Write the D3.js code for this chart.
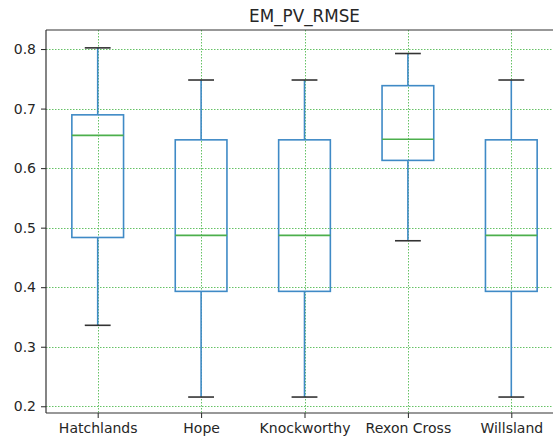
<!DOCTYPE html>
<html>
<head>
<meta charset="utf-8">
<script src="https://cdn.jsdelivr.net/npm/d3@7/dist/d3.min.js"></script>
<style>
  html, body { margin: 0; padding: 0; background: #fff; }
  svg { display: block; font-family: "DejaVu Sans", sans-serif; }
</style>
</head>
<body>
<svg id="chart" width="553" height="441"></svg>
<script>
// Box-plot summary for each site: whisker low, Q1, median, Q3, whisker high
const sites    = ["Hatchlands", "Hope", "Knockworthy", "Rexon Cross", "Willsland"];
const whiskLow = [0.336, 0.2155, 0.2155, 0.478, 0.2155];
const q1       = [0.4835, 0.393, 0.393, 0.613, 0.393];
const median   = [0.655, 0.487, 0.487, 0.6485, 0.487];
const q3       = [0.6895, 0.6475, 0.6475, 0.7385, 0.6475];
const whiskHi  = [0.802, 0.748, 0.748, 0.7925, 0.748];
const yTicks   = [0.2, 0.3, 0.4, 0.5, 0.6, 0.7, 0.8];
const title    = "EM_PV_RMSE";

const svg = d3.select("#chart");
const W = 553, H = 441;
const m = { left: 46, right: 563, top: 30, bottom: 413 };

const boxes = sites.map((s, i) => ({
  site: s, pos: i + 1,
  lo: whiskLow[i], q1: q1[i], med: median[i], q3: q3[i], hi: whiskHi[i]
}));

const x = d3.scaleLinear().domain([0.5, sites.length + 0.5]).range([m.left, m.right]);
const y = d3.scaleLinear().domain([0.1887, 0.832]).range([m.bottom, m.top]);

const textColor = "#262626";
const plot = svg.append("g");

// dotted green grid
const gridColor = "#66c266";
plot.append("g").selectAll("line.gy").data(yTicks).join("line")
  .attr("x1", m.left).attr("x2", W)
  .attr("y1", d => Math.round(y(d)) + 0.5).attr("y2", d => Math.round(y(d)) + 0.5)
  .attr("stroke", gridColor).attr("stroke-width", 1).attr("stroke-dasharray", "1.5,1.5");
plot.append("g").selectAll("line.gx").data(boxes).join("line")
  .attr("x1", d => Math.round(x(d.pos)) + 0.5).attr("x2", d => Math.round(x(d.pos)) + 0.5)
  .attr("y1", m.top).attr("y2", m.bottom)
  .attr("stroke", gridColor).attr("stroke-width", 1).attr("stroke-dasharray", "1.5,1.5");

// boxes, whiskers, medians and caps
const blue = "#3f8ac6";
const boxHalf = (x(1.25) - x(1));
const capHalf = (x(1.125) - x(1));
const g = plot.append("g").selectAll("g").data(boxes).join("g");

g.append("line") // lower whisker
  .attr("x1", d => x(d.pos)).attr("x2", d => x(d.pos))
  .attr("y1", d => y(d.q1)).attr("y2", d => y(d.lo))
  .attr("stroke", blue).attr("stroke-width", 1.6);
g.append("line") // upper whisker
  .attr("x1", d => x(d.pos)).attr("x2", d => x(d.pos))
  .attr("y1", d => y(d.q3)).attr("y2", d => y(d.hi))
  .attr("stroke", blue).attr("stroke-width", 1.6);
g.append("rect")
  .attr("x", d => x(d.pos) - boxHalf).attr("width", 2 * boxHalf)
  .attr("y", d => y(d.q3)).attr("height", d => y(d.q1) - y(d.q3))
  .attr("fill", "none").attr("stroke", blue).attr("stroke-width", 1.6);
g.append("line") // median
  .attr("x1", d => x(d.pos) - boxHalf).attr("x2", d => x(d.pos) + boxHalf)
  .attr("y1", d => y(d.med)).attr("y2", d => y(d.med))
  .attr("stroke", "#4caf4c").attr("stroke-width", 1.6);
["lo", "hi"].forEach(k => {
  g.append("line")
    .attr("x1", d => x(d.pos) - capHalf).attr("x2", d => x(d.pos) + capHalf)
    .attr("y1", d => y(d[k])).attr("y2", d => y(d[k]))
    .attr("stroke", "#333").attr("stroke-width", 1.6);
});

// axes
const yAxis = d3.axisLeft(y).tickValues(yTicks).tickFormat(d3.format(".1f")).tickSize(5).tickPadding(5);
const yG = svg.append("g").attr("transform", `translate(${m.left},0)`).call(yAxis);
const xAxis = d3.axisBottom(x).tickValues(boxes.map(d => d.pos)).tickFormat((d, i) => sites[i]).tickSize(5).tickPadding(5);
const xG = svg.append("g").attr("transform", `translate(0,${m.bottom})`).call(xAxis);
[yG, xG].forEach(a => {
  a.select(".domain").remove();
  a.selectAll(".tick line").attr("stroke", textColor).attr("stroke-width", 1);
  a.selectAll(".tick text").attr("fill", textColor).attr("font-size", 14)
    .attr("font-family", "DejaVu Sans, sans-serif");
});

// spines (the right one falls outside the view)
const spine = svg.append("g").attr("stroke", "#333").attr("stroke-width", 1.2).attr("fill", "none");
spine.append("line").attr("x1", m.left).attr("x2", m.left).attr("y1", m.top).attr("y2", m.bottom);
spine.append("line").attr("x1", m.left).attr("x2", W).attr("y1", m.top).attr("y2", m.top);
spine.append("line").attr("x1", m.left).attr("x2", W).attr("y1", m.bottom).attr("y2", m.bottom);

svg.append("text")
  .attr("x", (m.left + m.right) / 2).attr("y", 22)
  .attr("text-anchor", "middle").attr("font-size", 16.8).attr("fill", textColor)
  .text(title);
</script>
</body>
</html>
